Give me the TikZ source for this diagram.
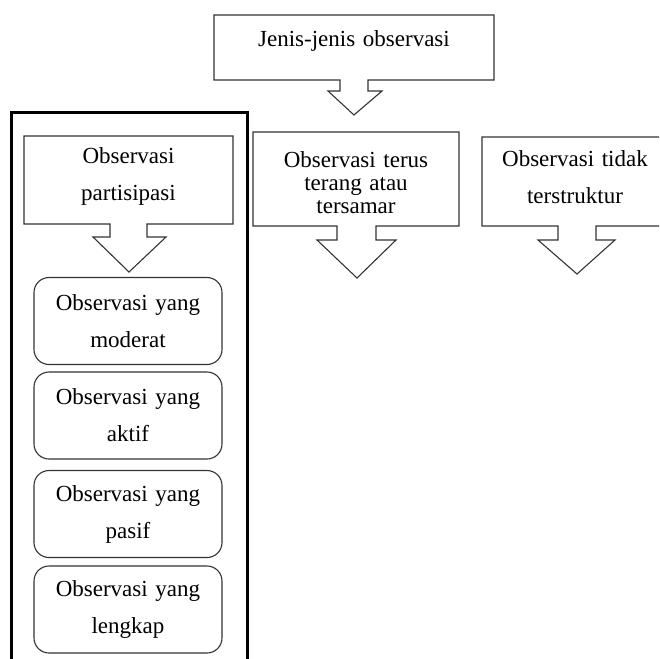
\documentclass[tikz,border=0pt]{standalone}
\usepackage{fontspec}
\setmainfont{Liberation Serif}
\begin{document}
\begin{tikzpicture}[x=1pt,y=-1pt,line join=miter]
\tikzset{
  ln/.style={draw=black!80, line width=1.1pt},
  txt/.style={font=\fontsize{23}{37}\selectfont, align=center, inner sep=0pt, text width=220pt, anchor=base},
  txtn/.style={txt, font=\fontsize{23}{23}\selectfont},
  rbox/.style={ln, rounded corners=15pt, minimum width=188pt, minimum height=87pt, inner sep=0pt,
    font=\fontsize{23}{37}\selectfont, align=center, text width=188pt},
  frame/.style={draw=black, line width=3.5pt}
}
\useasboundingbox (0,0) rectangle (659,659);
\clip (0,0) rectangle (659,659);

% top callout
\draw[ln] (214,15) -- (494,15) -- (494,80) -- (368,80) -- (368,91) -- (382,91) -- (354,115)
  -- (328,91) -- (340,91) -- (340,80) -- (214,80) -- cycle;
\node[txt] (jenis) at (354,46) {Jenis-jenis observasi};

% big frame
\draw[frame] (11.5,700) -- (11.5,112.5) -- (247.5,112.5) -- (247.5,700);

% partisipasi callout
\draw[ln] (24,136) -- (233,136) -- (233,224) -- (147,224) -- (147,237) -- (166,237) -- (129,272)
  -- (93,237) -- (110,237) -- (110,224) -- (24,224) -- cycle;
\node[txt] (partisipasi) at (128.5,163) {Observasi\\partisipasi};

% terus callout
\draw[ln] (253,132) -- (459,132) -- (459,226) -- (376,226) -- (376,240) -- (396,240) -- (357,278)
  -- (317,240) -- (337,240) -- (337,226) -- (253,226) -- cycle;
\node[txtn] (terus) at (356,167) {Observasi terus\\terang atau\\tersamar};

% tidak callout
\draw[ln] (482,137) -- (672,137) -- (672,226) -- (596,226) -- (596,240) -- (615,240) -- (577,274)
  -- (538,240) -- (558,240) -- (558,226) -- (482,226) -- cycle;
\node[txt] (tidak) at (575,166) {Observasi tidak\\terstruktur};

% rounded boxes
\node[rbox] (moderat) at (128,321) {Observasi yang\\moderat};
\node[rbox] (aktif) at (128,415.5) {Observasi yang\\aktif};
\node[rbox] (pasif) at (128,514) {Observasi yang\\pasif};
\node[rbox] (lengkap) at (128,609.5) {Observasi yang\\lengkap};
\end{tikzpicture}
\end{document}
